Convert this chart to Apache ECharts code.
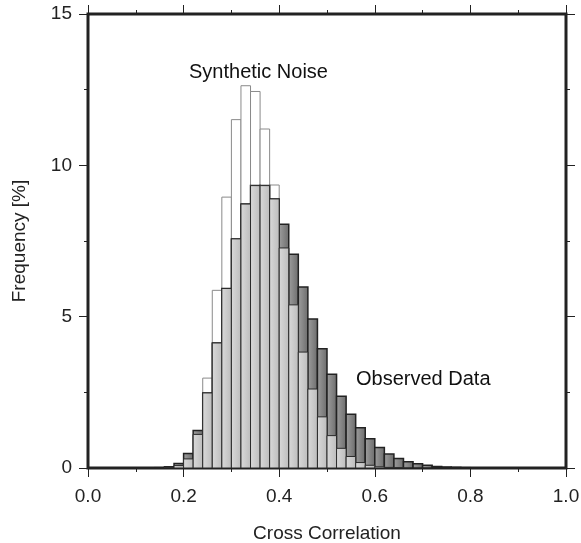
<!DOCTYPE html>
<html>
<head>
<meta charset="utf-8">
<script src="https://cdn.jsdelivr.net/npm/echarts@6/dist/echarts.min.js"></script>
<style>
html,body{margin:0;padding:0;background:#fff;}
#chart{width:581px;height:543px;}
</style>
</head>
<body>
<div id="chart"></div>
<script>
// Histogram bins (left edges) for Cross Correlation, bin width 0.02
var binLeft = [0.14,0.16,0.18,0.20,0.22,0.24,0.26,0.28,0.30,0.32,0.34,0.36,0.38,0.40,0.42,0.44,0.46,0.48,0.50,0.52,0.54,0.56,0.58,0.60,0.62,0.64,0.66,0.68,0.70,0.72,0.74,0.76,0.78];
var BIN_WIDTH = 0.02;
// Frequency [%] of observed data
var observed = [0.01,0.04,0.15,0.48,1.24,2.48,4.13,5.93,7.57,8.72,9.33,9.33,8.89,8.05,7.06,5.98,4.92,3.94,3.10,2.37,1.78,1.33,0.97,0.68,0.46,0.31,0.21,0.14,0.09,0.05,0.03,0.02,0.01];
// Frequency [%] of synthetic noise
var noise = [0.00,0.01,0.08,0.30,1.11,2.97,5.87,8.95,11.51,12.63,12.44,11.20,9.35,7.27,5.39,3.83,2.61,1.69,1.07,0.65,0.38,0.18,0.09,0.04,0.02,0.01,0,0,0,0,0,0,0];

var FONT = 'Liberation Sans, Arial, Helvetica, sans-serif';

function toItems(vals){
  return binLeft.map(function(x0,i){ return [x0, x0 + BIN_WIDTH, vals[i]]; });
}
var overlap = observed.map(function(v,i){ return Math.min(v, noise[i]); });

function makeRender(fill, stroke, lw){
  return function(params, api){
    var x0 = api.value(0), x1 = api.value(1), v = api.value(2);
    if (!(v > 0)) return null;
    var p0 = api.coord([x0, v]);
    var p1 = api.coord([x1, 0]);
    return {
      type: 'rect',
      shape: {x: p0[0], y: p0[1], width: p1[0]-p0[0], height: p1[1]-p0[1]},
      style: {fill: fill, stroke: stroke, lineWidth: lw}
    };
  };
}

var chart = echarts.init(document.getElementById('chart'), null, {renderer:'canvas'});
var darkFill = new echarts.graphic.LinearGradient(0,0,1,0,[{offset:0,color:'#a0a0a0'},{offset:1,color:'#6a6a6a'}]);
var lightFill = new echarts.graphic.LinearGradient(0,0,1,0,[{offset:0,color:'#dadada'},{offset:1,color:'#bcbcbc'}]);

var lineStyle = {color:'#222', width:1};
function frameAxis(extra){
  var base = {
    type: 'value',
    axisLine: {show: true, onZero: false, lineStyle: {color:'#222', width: 1}},
    axisTick: {show: true, inside: false, length: 9, lineStyle: lineStyle},
    minorTick: {show: true, splitNumber: 2, length: 4, lineStyle: lineStyle},
    splitLine: {show: false},
    minorSplitLine: {show: false}
  };
  for (var k in extra) base[k] = extra[k];
  return base;
}
var option = {
  animation: false,
  backgroundColor: '#fff',
  grid: {left: 88, right: 15, top: 14, bottom: 75, show: true, borderColor: '#222', borderWidth: 3,
         backgroundColor: 'transparent', containLabel: false, outerBoundsMode: 'none'},
  xAxis: [
    frameAxis({min: 0, max: 1, interval: 0.2, position: 'bottom',
      axisLabel: {fontSize: 19, color: '#222', fontFamily: FONT, margin: 19,
        formatter: function(v){ return v.toFixed(1); }},
      name: 'Cross Correlation', nameLocation: 'middle', nameGap: 56,
      nameTextStyle: {fontSize: 19, color: '#222', fontFamily: FONT}}),
    frameAxis({min: 0, max: 1, interval: 0.2, position: 'top', axisLabel: {show: false}})
  ],
  yAxis: [
    frameAxis({min: 0, max: 15, interval: 5, position: 'left',
      axisLabel: {fontSize: 19, color: '#222', fontFamily: FONT, margin: 16},
      name: 'Frequency [%]', nameLocation: 'middle', nameGap: 59, nameRotate: 90,
      nameTextStyle: {fontSize: 19, color: '#222', fontFamily: FONT}}),
    frameAxis({min: 0, max: 15, interval: 5, position: 'right', axisLabel: {show: false}})
  ],
  series: [
    {type: 'custom', name: 'Synthetic Noise', xAxisIndex: 0, yAxisIndex: 0, clip: true,
     renderItem: makeRender('#ffffff', '#8a8a8a', 1), data: toItems(noise), z: 1},
    {type: 'custom', name: 'Observed Data', xAxisIndex: 0, yAxisIndex: 0, clip: true,
     renderItem: makeRender(darkFill, '#222', 1.5), data: toItems(observed), z: 2},
    {type: 'custom', name: 'Overlap', xAxisIndex: 0, yAxisIndex: 0, clip: true,
     renderItem: makeRender(lightFill, '#2a2a2a', 1), data: toItems(overlap), z: 3}
  ],
  graphic: [
    {type: 'text', left: 189, top: 62, z: 10,
     style: {text: 'Synthetic Noise', fontSize: 20, fill: '#111', fontFamily: FONT}},
    {type: 'text', left: 356, top: 369, z: 10,
     style: {text: 'Observed Data', fontSize: 20, fill: '#111', fontFamily: FONT}}
  ]
};
chart.setOption(option);
</script>
</body>
</html>
